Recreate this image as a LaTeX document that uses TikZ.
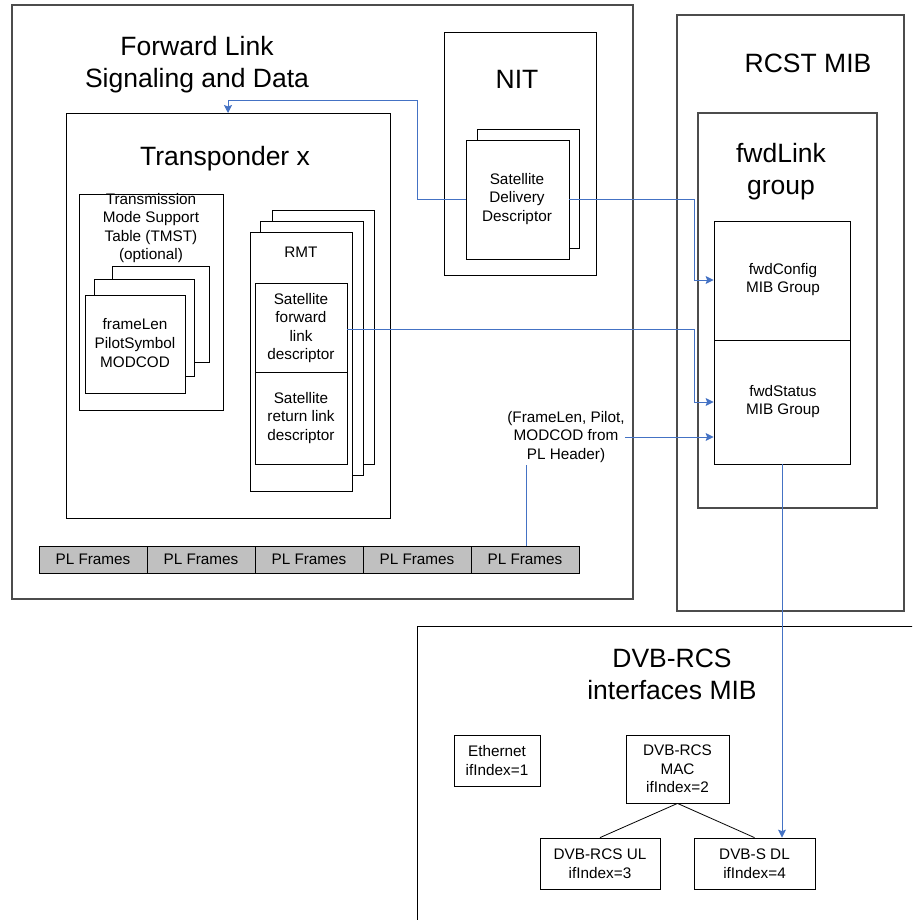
\documentclass[tikz,border=0pt]{standalone}
\usepackage{fontspec}
\setmainfont{Liberation Sans}
\usetikzlibrary{arrows.meta}
\definecolor{linkblue}{HTML}{4472C4}
\definecolor{framegray}{HTML}{C0C0C0}
\tikzset{
  frame/.style={draw=black!70, line width=1.2pt},
  box/.style={draw=black, line width=0.8pt, fill=white},
  title/.style={inner sep=0pt, align=center, font=\fontsize{26.5}{32}\selectfont},
  small/.style={inner sep=0pt, align=center, font=\fontsize{15.3}{18.6}\selectfont},
  link/.style={draw=linkblue, line width=0.9pt},
  linkarrow/.style={link, -{Stealth[length=8pt,width=8pt,inset=1.5pt]}},
  plframe/.style={draw=black, line width=0.8pt, fill=framegray, minimum width=108pt,
    minimum height=27pt, inner sep=0pt, font=\fontsize{15.3}{18}\selectfont},
  leaf/.style={draw=black, line width=0.8pt, inner sep=0pt, align=center,
    font=\fontsize{15.3}{18.6}\selectfont}
}
\begin{document}
\begin{tikzpicture}[x=1pt,y=-1pt]
\useasboundingbox (0,0) rectangle (912,920);

% ---- Forward link signalling and data ----
\draw[frame] (12,5) rectangle (633,599);
\node[title] at (197,65) {Forward Link\\Signaling and Data};

% Transponder
\draw[box] (66,113) rectangle (390,518);
\coordinate (tptop) at (228,113);
\node[title] at (225,159) {Transponder x};

% TMST
\draw[box] (79,194) rectangle (223,410);
\node[small] at (151,228) {Transmission\\Mode Support\\Table (TMST)\\(optional)};
\draw[box] (112,266) rectangle (209,362);
\draw[box] (94,279) rectangle (194,376);
\draw[box] (85,295) rectangle (185,393);
\node[small] at (135,343) {frameLen\\PilotSymbol\\MODCOD};

% RMT stack
\draw[box] (272,210) rectangle (374,464);
\draw[box] (260,221) rectangle (363,475);
\draw[box] (250,232) rectangle (352,491);
\node[small] at (301,252) {RMT};
\node[box, minimum width=92pt, minimum height=89pt, inner sep=0pt] (fwddesc) at (301,327.5) {};
\node[small] at (301,328) {Satellite\\forward\\link\\descriptor};
\draw[box] (255,372) rectangle (347,464);
\node[small] at (301,418) {Satellite\\return link\\descriptor};

% NIT
\draw[box] (444,32) rectangle (596,275);
\node[title] at (517,79) {NIT};
\draw[box] (477,129) rectangle (579,248);
\node[box, minimum width=103pt, minimum height=119pt, inner sep=0pt] (sdd) at (517.5,199.5) {};
\node[small] at (517,199) {Satellite\\Delivery\\Descriptor};

% PL frames
\node[plframe] (pl1) at (93,559.5) {PL Frames};
\node[plframe] (pl2) at (201,559.5) {PL Frames};
\node[plframe] (pl3) at (309,559.5) {PL Frames};
\node[plframe] (pl4) at (417,559.5) {PL Frames};
\node[plframe] (pl5) at (525,559.5) {PL Frames};

\node[small] (plhdr) at (566,437) {(FrameLen, Pilot,\\MODCOD from\\PL Header)};

% ---- RCST MIB ----
\draw[frame] (677,15) rectangle (904,611);
\node[title] at (808,63) {RCST MIB};
\draw[frame] (698,113) rectangle (877,508);
\node[title] at (781,172) {fwdLink\\group};
\node[box, minimum width=136pt, minimum height=119pt, inner sep=0pt] (cfg) at (782,280.5) {};
\node[small] at (783,279.5) {fwdConfig\\MIB Group};
\node[box, minimum width=136pt, minimum height=124pt, inner sep=0pt] (stat) at (782,402) {};
\node[small] at (783,401.5) {fwdStatus\\MIB Group};

% ---- DVB-RCS interfaces MIB ----
\begin{scope}
\clip (0,0) rectangle (912,920);
\draw[draw=black, line width=1pt] (417,960) -- (417,626) -- (960,626);
\end{scope}
\node[title] at (672,674) {DVB-RCS\\interfaces MIB};
\node[leaf, minimum width=86pt, minimum height=51pt] (eth) at (497,760.5) {Ethernet\\ifIndex=1};
\node[leaf, minimum width=103pt, minimum height=68pt] (mac) at (677.5,769) {DVB-RCS\\MAC\\ifIndex=2};
\node[leaf, minimum width=120pt, minimum height=51pt] (ul) at (600,863.5) {DVB-RCS UL\\ifIndex=3};
\node[leaf, minimum width=121pt, minimum height=51pt] (dl) at (754.5,863.5) {DVB-S DL\\ifIndex=4};
\draw[line width=0.8pt] (mac.south) -- (ul.north);
\draw[line width=0.8pt] (mac.south) -- (dl.north);

% ---- connectors ----
\draw[linkarrow] (sdd.west) -- (417,199.5) -- (417,100) -- (228,100) -- (tptop);
\draw[linkarrow] (sdd.east) -- (694,199.5) -- (694,280) -- (cfg.west |- 0,280);
\draw[linkarrow] (fwddesc.east |- 0,329) -- (694,329) -- (694,402) -- (stat.west |- 0,402);
\draw[linkarrow] (plhdr.east |- 0,437) -- (stat.west |- 0,437);
\draw[link] (pl5.north -| 526,0) -- (526,465);
\draw[linkarrow] (stat.south -| 782,0) -- (dl.north -| 782,0);
\end{tikzpicture}
\end{document}
